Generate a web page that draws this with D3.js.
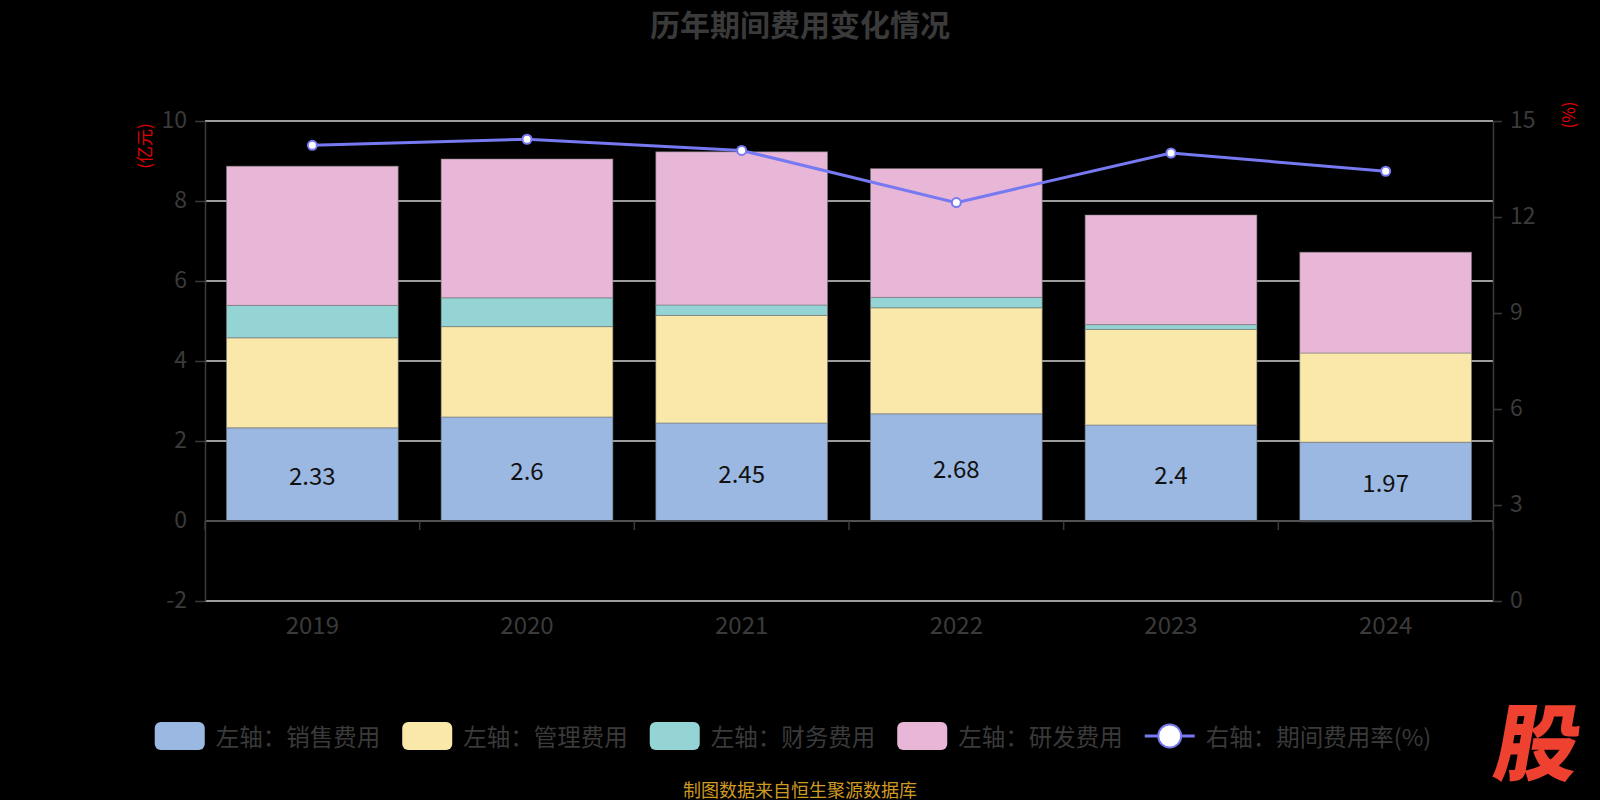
<!DOCTYPE html>
<html>
<head>
<meta charset="utf-8">
<script src="https://cdn.jsdelivr.net/npm/d3@7/dist/d3.min.js"></script>
<style>
    body { margin: 0; background: #000; }
    text { font-family: "Noto Sans CJK SC", "Noto Sans", sans-serif; }
</style>
</head>
<body>
<div id="chart-area"></div>
<script>
// values (亿元 / %)
var years = ["2019", "2020", "2021", "2022", "2023", "2024"];
var salesExp = [2.33, 2.6, 2.45, 2.68, 2.4, 1.97];
var adminExp = [2.25, 2.26, 2.69, 2.65, 2.39, 2.23];
var financeExp = [0.81, 0.72, 0.26, 0.26, 0.12, -0.02];
var rdExp = [3.48, 3.47, 3.83, 3.22, 2.74, 2.52];
var expenseRate = [14.24, 14.43, 14.08, 12.45, 14.0, 13.43];

var leftTicks = [-2, 0, 2, 4, 6, 8, 10];
var rightTicks = [0, 3, 6, 9, 12, 15];

var seriesNames = ["左轴：销售费用", "左轴：管理费用", "左轴：财务费用", "左轴：研发费用"];
var lineName = "右轴：期间费用率(%)";
var seriesColors = ["#9bb8e3", "#f9e8a9", "#95d4d5", "#e8b7d8"];
var lineColor = "#7679f1";

ExpenseChart = function(_parentElement){
    this.parentElement = _parentElement;
    this.initVis();
}

ExpenseChart.prototype.initVis = function() {
    var vis = this;

    vis.margin = {top: 121, right: 107, bottom: 199, left: 205};
    vis.width = 1600 - vis.margin.left - vis.margin.right;
    vis.height = 800 - vis.margin.top - vis.margin.bottom;

    vis.root = d3.select("#" + vis.parentElement).append("svg")
        .attr("width", 1600)
        .attr("height", 800)
        .style("display", "block")
        .style("background", "#000");

    vis.svg = vis.root.append("g")
        .attr("transform", "translate(" + vis.margin.left + "," + vis.margin.top + ")");

    vis.x = d3.scaleBand().domain(years).range([0, vis.width]).padding(0);
    vis.y = d3.scaleLinear().domain([-2, 10]).range([vis.height, 0]);
    vis.y2 = d3.scaleLinear().domain([0, 15]).range([vis.height, 0]);

    vis.wrangleData();
}

ExpenseChart.prototype.wrangleData = function() {
    var vis = this;

    vis.rows = years.map(function(d, i) {
        return {year: d, s0: salesExp[i], s1: adminExp[i], s2: financeExp[i], s3: rdExp[i]};
    });
    vis.stacked = d3.stack()
        .keys(["s0", "s1", "s2", "s3"])
        .offset(d3.stackOffsetDiverging)(vis.rows);

    vis.updateVis();
}

ExpenseChart.prototype.updateVis = function() {
    var vis = this;
    var axisGray = "#3a3a3a";

    // grid
    vis.svg.append("g").selectAll("line")
        .data(leftTicks)
        .enter().append("line")
        .attr("x1", 0).attr("x2", vis.width)
        .attr("y1", d => vis.y(d)).attr("y2", d => vis.y(d))
        .attr("stroke", "#d2d2d2")
        .attr("stroke-width", 1.5);

    // left axis
    var yAxis = vis.svg.append("g")
        .call(d3.axisLeft(vis.y).tickValues(leftTicks).tickFormat(d => String(d))
            .tickSize(10).tickSizeOuter(0).tickPadding(8));
    // right axis
    var yAxis2 = vis.svg.append("g")
        .attr("transform", "translate(" + vis.width + ",0)")
        .call(d3.axisRight(vis.y2).tickValues(rightTicks).tickFormat(d => String(d))
            .tickSize(9).tickSizeOuter(0).tickPadding(8));
    [yAxis, yAxis2].forEach(function(ax) {
        ax.select(".domain").attr("stroke", axisGray).attr("stroke-width", 1.5);
        ax.selectAll(".tick line").attr("stroke", axisGray).attr("stroke-width", 1.5);
        ax.selectAll(".tick text").attr("fill", "#3a3a3a").attr("dy", "0.3em")
            .style("font-size", "23px")
            .style("font-family", "'Noto Sans CJK SC', sans-serif");
    });
    yAxis.selectAll(".tick line").filter(d => d === 0).remove();

    // x labels at the bottom
    var xAxis = vis.svg.append("g")
        .attr("transform", "translate(0," + vis.height + ")")
        .call(d3.axisBottom(vis.x).tickSize(0).tickPadding(16));
    xAxis.select(".domain").remove();
    xAxis.selectAll(".tick text").attr("fill", "#3a3a3a").style("font-size", "24px")
        .style("font-family", "'Noto Sans CJK SC', sans-serif");

    // bars
    var barW = vis.x.bandwidth() * 0.8;
    vis.svg.append("g").selectAll("g")
        .data(vis.stacked)
        .enter().append("g")
        .attr("fill", (d, i) => seriesColors[i])
        .selectAll("rect")
        .data(d => d)
        .enter().append("rect")
        .attr("x", d => vis.x(d.data.year) + (vis.x.bandwidth() - barW) / 2)
        .attr("width", barW)
        .attr("y", d => vis.y(Math.max(d[0], d[1])))
        .attr("height", d => Math.abs(vis.y(d[0]) - vis.y(d[1])))
        .attr("stroke", "rgba(120,120,120,0.55)")
        .attr("stroke-width", 1);

    // zero line + ticks between categories
    var zero = vis.svg.append("g").attr("transform", "translate(0," + vis.y(0) + ")");
    zero.append("line")
        .attr("x1", 0).attr("x2", vis.width)
        .attr("stroke", axisGray).attr("stroke-width", 1.5);
    zero.selectAll(".xt")
        .data(years.concat(["end"]))
        .enter().append("line")
        .attr("class", "xt")
        .attr("x1", (d, i) => i * vis.x.step()).attr("x2", (d, i) => i * vis.x.step())
        .attr("y1", 0).attr("y2", 9)
        .attr("stroke", axisGray).attr("stroke-width", 1.5);

    // value labels on sales segment
    vis.svg.append("g").selectAll("text")
        .data(vis.stacked[0])
        .enter().append("text")
        .attr("x", d => vis.x(d.data.year) + vis.x.bandwidth() / 2)
        .attr("y", d => (vis.y(d[0]) + vis.y(d[1])) / 2)
        .attr("text-anchor", "middle")
        .attr("dominant-baseline", "central")
        .attr("fill", "#111")
        .style("font-size", "24px")
        .text(d => d.data.s0);

    // rate line
    var line = d3.line()
        .x((d, i) => vis.x(years[i]) + vis.x.bandwidth() / 2)
        .y(d => vis.y2(d));
    vis.svg.append("path")
        .datum(expenseRate)
        .attr("d", line)
        .attr("fill", "none")
        .attr("stroke", lineColor)
        .attr("stroke-width", 3);
    vis.svg.append("g").selectAll("circle")
        .data(expenseRate)
        .enter().append("circle")
        .attr("cx", (d, i) => vis.x(years[i]) + vis.x.bandwidth() / 2)
        .attr("cy", d => vis.y2(d))
        .attr("r", 4.5)
        .attr("fill", "#fff")
        .attr("stroke", lineColor)
        .attr("stroke-width", 2);

    // axis names
    vis.root.append("text")
        .attr("transform", "translate(143,146) rotate(-90)")
        .attr("text-anchor", "middle").attr("dominant-baseline", "central")
        .attr("fill", "#e00000").style("font-size", "17px")
        .text("(亿元)");
    vis.root.append("text")
        .attr("transform", "translate(1567,115) rotate(-90)")
        .attr("text-anchor", "middle").attr("dominant-baseline", "central")
        .attr("fill", "#e00000").style("font-size", "17px")
        .text("(%)");

    // title
    vis.root.append("text")
        .attr("x", 800).attr("y", 23)
        .attr("text-anchor", "middle").attr("dominant-baseline", "central")
        .attr("fill", "#3a3a3a")
        .style("font-size", "30px").style("font-weight", "bold")
        .text("历年期间费用变化情况");

    vis.drawLegend();

    // footer + logo
    vis.root.append("text")
        .attr("x", 800).attr("y", 789)
        .attr("text-anchor", "middle").attr("dominant-baseline", "central")
        .attr("fill", "#cf9a22").style("font-size", "18px")
        .text("制图数据来自恒生聚源数据库");
    vis.root.append("text")
        .attr("transform", "translate(1533,774) skewX(-10)")
        .attr("text-anchor", "middle")
        .attr("fill", "#ee4130")
        .style("font-size", "84px").style("font-weight", "900")
        .text("股");
}

ExpenseChart.prototype.drawLegend = function() {
    var vis = this;
    var items = seriesNames.map((n, i) => ({name: n, color: seriesColors[i], line: false}))
        .concat([{name: lineName, color: lineColor, line: true}]);

    var lg = vis.root.append("g");
    var cy = 736, symW = 50, gapText = 11, gapItem = 22, xPos = 0;

    items.forEach(function(it) {
        var g = lg.append("g").attr("transform", "translate(" + xPos + ",0)");
        if (it.line) {
            g.append("line").attr("x1", 0).attr("x2", symW).attr("y1", cy).attr("y2", cy)
                .attr("stroke", it.color).attr("stroke-width", 3);
            g.append("circle").attr("cx", symW / 2).attr("cy", cy).attr("r", 11.5)
                .attr("fill", "#fff").attr("stroke", it.color).attr("stroke-width", 2);
        } else {
            g.append("rect").attr("x", 0).attr("y", cy - 14).attr("width", symW).attr("height", 28)
                .attr("rx", 6).attr("fill", it.color);
        }
        var t = g.append("text")
            .attr("x", symW + gapText).attr("y", cy)
            .attr("dominant-baseline", "central")
            .attr("fill", "#3a3a3a").style("font-size", "23.5px")
            .text(it.name);
        xPos += symW + gapText + t.node().getComputedTextLength() + gapItem;
    });
    var total = xPos - gapItem;
    lg.attr("transform", "translate(" + (793 - total / 2) + ",0)");
}

new ExpenseChart("chart-area");
</script>
</body>
</html>
